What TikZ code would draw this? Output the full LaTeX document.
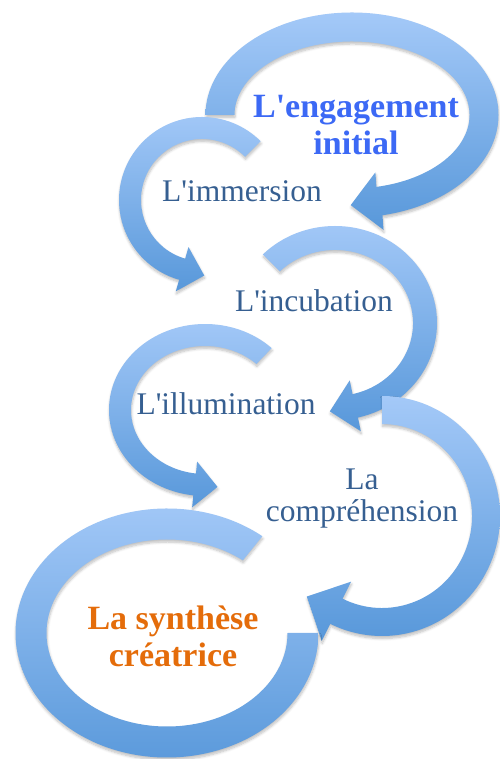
\documentclass[tikz,border=0pt]{standalone}
\usepackage{fontspec}
\setmainfont{Liberation Serif}[Ligatures=TeXOff]
\usetikzlibrary{shadows,shadows.blur}

\definecolor{arrowlight}{RGB}{164,201,248}
\definecolor{arrowdark}{RGB}{88,152,218}
\definecolor{stagetext}{RGB}{54,95,145}
\definecolor{starttext}{RGB}{60,105,245}
\definecolor{endtext}{RGB}{228,108,10}

% Curved band along an ellipse, ending in a triangular head.
% #1,#2 centre; #3,#4 radii of the mid line; #5 band width;
% #6 start angle (tail); #7 end angle (head base); #8 head half width (0 = no head)
\newcommand{\ringarrow}[8]{%
  \pgfmathsetmacro\rxo{#3+#5/2}%
  \pgfmathsetmacro\ryo{#4+#5/2}%
  \pgfmathsetmacro\rxi{#3-#5/2}%
  \pgfmathsetmacro\ryi{#4-#5/2}%
  \pgfmathsetmacro\dirn{(#7>#6)?1:-1}%
  \pgfmathsetmacro\px{#1+#3*cos(#7)}%
  \pgfmathsetmacro\py{#2+#4*sin(#7)}%
  \pgfmathsetmacro\tx{-\dirn*#3*sin(#7)}%
  \pgfmathsetmacro\ty{\dirn*#4*cos(#7)}%
  \pgfmathsetmacro\tn{veclen(\tx,\ty)}%
  \pgfmathsetmacro\nx{#4*cos(#7)}%
  \pgfmathsetmacro\ny{#3*sin(#7)}%
  \pgfmathsetmacro\nn{veclen(\nx,\ny)}%
  \shade[bandshade]
    ({#1+\rxo*cos(#6)},{#2+\ryo*sin(#6)})
    arc[start angle=#6, end angle=#7, x radius=\rxo pt, y radius=\ryo pt]
    -- ({\px+#8*\nx/\nn},{\py+#8*\ny/\nn})
    -- ({\px+#8*\tx/\tn},{\py+#8*\ty/\tn})
    -- ({\px-#8*\nx/\nn},{\py-#8*\ny/\nn})
    -- ({#1+\rxi*cos(#7)},{#2+\ryi*sin(#7)})
    arc[start angle=#7, end angle=#6, x radius=\rxi pt, y radius=\ryi pt]
    -- cycle;%
}

\tikzset{
  bandshade/.style={top color=arrowlight, bottom color=arrowdark,
    blur shadow={shadow xshift=0.5pt, shadow yshift=-2.5pt,
      shadow blur steps=6, shadow blur radius=2.5pt, shadow opacity=25}},
  stage/.style={inner sep=0pt, text=stagetext, align=center,
    font=\fontsize{31.5}{32}\selectfont},
  stageend/.style={inner sep=0pt, align=center,
    font=\fontsize{34}{37}\selectfont\bfseries},
}

\begin{document}
\begin{tikzpicture}[x=1pt,y=1pt]
  \useasboundingbox (0,0) rectangle (499,759);

  % the chain of curved arrows, top to bottom
  \ringarrow{352}{644}{132}{88}{29}{180}{-78}{29}
  \ringarrow{202}{559}{72}{72}{22}{45}{254}{23}
  \ringarrow{335}{436}{90}{85}{24}{135}{-77}{26}
  \ringarrow{205}{349}{85}{75}{22}{46}{263}{23}
  \ringarrow{382}{243}{104}{106}{28}{90}{-116}{33}
  \ringarrow{167}{126}{136}{109}{31}{51}{360}{0}

  % stage labels (base anchor = baseline of the last line)
  \node[stageend, text=starttext, anchor=base] (engage) at (356,604) {L'engagement\\initial};
  \node[stage, anchor=base] (immersion) at (242,557) {L'immersion};
  \node[stage, anchor=base] (incubation) at (314,447) {L'incubation};
  \node[stage, anchor=base] (illumination) at (226,344) {L'illumination};
  \node[stage, anchor=base] (comprehension) at (362,237) {La\\compréhension};
  \node[stageend, text=endtext, anchor=base] (synthese) at (173,92) {La synthèse\\créatrice};
\end{tikzpicture}
\end{document}
